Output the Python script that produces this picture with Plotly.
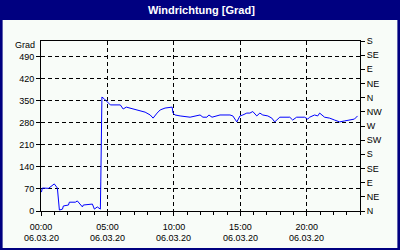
import plotly.graph_objects as go

DAY = "2020-03-06"
times = ["00:02","00:06","00:34","01:00","01:14","01:19","01:23","01:37","01:41","02:04","02:08","02:35",
         "02:44","03:07","03:11","03:52","04:01","04:14","04:28","04:30","04:35","04:46","04:59","05:13",
         "05:58","06:11","06:25","06:43","07:05","07:28","07:50","08:13","08:26","08:44","08:58","09:20",
         "09:43","09:52","09:56","10:05","10:28","11:13","11:58","12:11","12:29","12:38","12:52","13:28",
         "14:13","14:26","14:44","14:58","15:11","15:29","15:43","15:56","16:14","16:28","16:41","17:04",
         "17:22","17:35","17:58","18:43","18:56","19:14","19:50","20:04","20:13","20:35","20:49","20:58",
         "21:20","21:43","22:05","22:28","22:50","23:13","23:35","23:49"]
values = [60,73,72,86,73,22,3,6,16,19,28,28,
          32,13,19,22,6,13,6,95,362,356,346,337,
          337,324,330,327,321,318,314,305,295,311,321,327,
          330,330,311,305,302,298,305,298,298,305,298,305,
          305,302,283,302,305,311,311,316,302,311,305,302,
          295,283,298,298,289,298,298,292,298,305,302,311,
          298,295,289,283,286,289,292,302]

x_tick_hours = [0, 5, 10, 15, 20]
x_tick_times = ["00:00", "05:00", "10:00", "15:00", "20:00"]
x_tick_dates = ["06.03.20", "06.03.20", "06.03.20", "06.03.20", "06.03.20"]
left_ticks = [0, 70, 140, 210, 280, 350, 420, 490]
right_ticks = [0, 45, 90, 135, 180, 225, 270, 315, 360, 405, 450, 495, 540]
right_labels = ["N", "NE", "E", "SE", "S", "SW", "W", "NW", "N", "NE", "E", "SE", "S"]

xs = [f"{DAY} {t}" for t in times]
xtv = [f"{DAY} {h:02d}:00" for h in x_tick_hours]

NAVY = "#000080"
BODY = "#F8FCF8"
FONT = "Liberation Sans"

fig = go.Figure()
fig.add_trace(go.Scatter(x=xs, y=values, mode="lines", line=dict(color="#0000FF", width=1),
                         showlegend=False, hoverinfo="skip"))
fig.add_trace(go.Scatter(x=xs, y=values, mode="lines", yaxis="y2", line=dict(width=0),
                         opacity=0, showlegend=False, hoverinfo="skip"))

L, R, T, B = 40.5, 39.5, 41, 39
W, H = 400, 250
pw, ph = W - L - R, H - T - B

def px(x):
    return (x - L) / pw

def py(y):
    return (H - B - y) / ph

annotations = [
    dict(text="<b>Windrichtung [Grad]</b>", xref="paper", yref="paper",
         x=px(202), y=py(10), showarrow=False,
         font=dict(family=FONT, size=11, color="white"), xanchor="center", yanchor="middle"),
    dict(text="Grad", xref="paper", yref="paper", x=px(36), y=py(45),
         showarrow=False, xanchor="right", yanchor="middle",
         font=dict(family=FONT, size=9, color="black")),
]
for tv, d in zip(xtv, x_tick_dates):
    annotations.append(dict(text=d, xref="x", yref="paper", x=tv, y=py(238),
                            showarrow=False, xanchor="center", yanchor="middle",
                            font=dict(family=FONT, size=9, color="black")))

fig.update_layout(
    width=W, height=H,
    margin=dict(l=L, r=R, t=T, b=B, autoexpand=False),
    paper_bgcolor=NAVY,
    plot_bgcolor="rgba(0,0,0,0)",
    font=dict(family=FONT, size=9, color="black"),
    shapes=[
        dict(type="rect", xref="paper", yref="paper", layer="below",
             x0=px(2), x1=px(398), y0=py(248), y1=py(20),
             fillcolor=BODY, line=dict(width=0)),
    ],
    annotations=annotations,
    xaxis=dict(
        type="date", automargin=False,
        range=[f"{DAY} 00:00", "2020-03-07 00:00"],
        tickvals=xtv, ticktext=x_tick_times,
        showline=True, linecolor="black", linewidth=1, mirror=True,
        ticks="outside", ticklen=4, tickcolor="black",
        ticklabelstandoff=3,
        minor=dict(dtick=3600000, ticks="outside", ticklen=3, tickcolor="black", showgrid=False),
        showgrid=True, gridcolor="black", gridwidth=1, griddash="4px,3px",
        zeroline=False, tickangle=0,
        tickfont=dict(family=FONT, size=9, color="black"),
    ),
    yaxis=dict(
        range=[0, 540], tickvals=left_ticks, automargin=False,
        showline=True, linecolor="black", linewidth=1,
        ticks="outside", ticklen=4, tickcolor="black",
        showgrid=True, gridcolor="black", gridwidth=1, griddash="4px,3px",
        zeroline=False,
        tickfont=dict(family=FONT, size=9, color="black"),
    ),
    yaxis2=dict(
        range=[0, 540], tickvals=right_ticks, ticktext=right_labels, automargin=False,
        overlaying="y", side="right",
        showline=True, linecolor="black", linewidth=1,
        ticks="outside", ticklen=4, tickcolor="black",
        showgrid=False, zeroline=False,
        tickfont=dict(family=FONT, size=9, color="black"),
    ),
)

fig.write_html("out.html")
